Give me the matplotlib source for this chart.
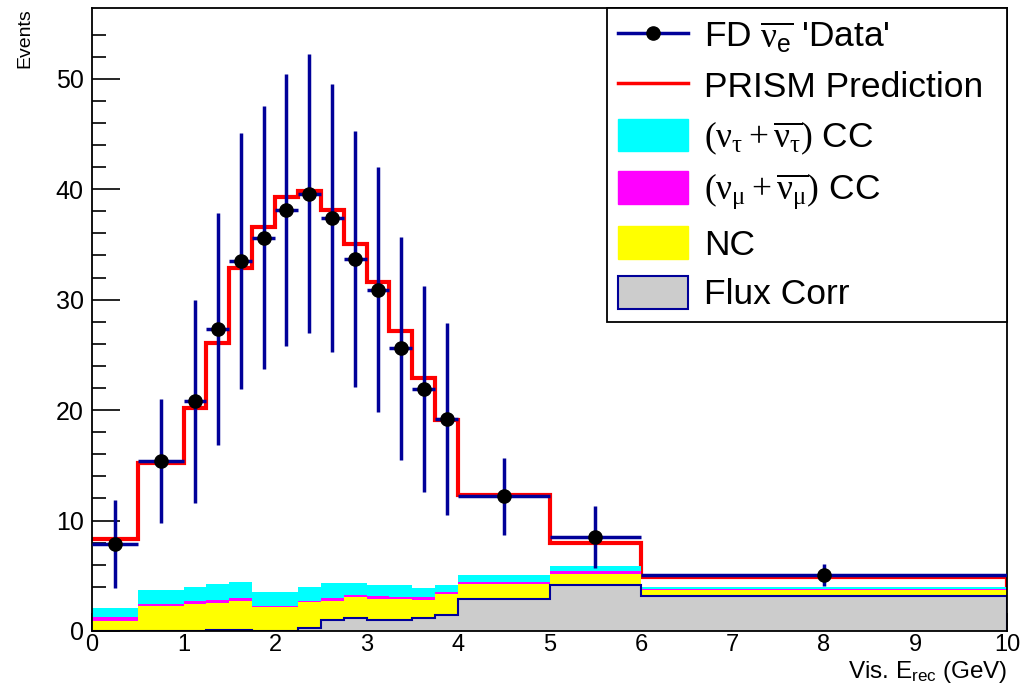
import numpy as np
import matplotlib.pyplot as plt
from matplotlib.lines import Line2D
from matplotlib.patches import Patch
from matplotlib.font_manager import FontProperties

plt.rcParams['font.family'] = ['Liberation Sans', 'DejaVu Sans']
# upright serif greek like ROOT's Symbol font, sans for plain subscripts
plt.rcParams['mathtext.fontset'] = 'custom'
plt.rcParams['mathtext.rm'] = 'Liberation Serif'
plt.rcParams['mathtext.it'] = 'Liberation Serif'
plt.rcParams['mathtext.sf'] = 'Liberation Sans'

# binning in visible reconstructed energy (GeV)
edges = [0, 0.5, 1, 1.25, 1.5, 1.75, 2, 2.25, 2.5, 2.75, 3, 3.25, 3.5, 3.75, 4, 5, 6, 10]

# PRISM prediction
prism = [8.3, 15.2, 20.2, 26.1, 32.9, 36.6, 39.3, 39.8, 38.1, 35.0, 31.6, 27.2,
         22.9, 19.1, 12.3, 8.0, 4.9]

# fake FD data and errors
fd_data = [7.9, 15.4, 20.8, 27.3, 33.5, 35.6, 38.1, 39.6, 37.4, 33.7, 30.9, 25.6,
           21.9, 19.2, 12.2, 8.5, 5.05]
fd_err = [4.0, 5.6, 9.2, 10.5, 11.6, 11.9, 12.3, 12.6, 12.1, 11.6, 11.1, 10.1,
          9.35, 8.7, 3.5, 2.8, 1.0]

# background components, stacked from the bottom
flux_corr = [0, 0, 0, 0.1, 0.1, 0, 0, 0.27, 1.0, 1.18, 1.0, 1.0, 1.18, 1.45, 2.87, 4.2, 3.17]
nc = [0.93, 2.29, 2.44, 2.43, 2.61, 2.14, 2.14, 2.38, 1.74, 1.87, 1.89, 1.89, 1.65, 1.86,
      1.41, 0.98, 0.54]
numu_cc = [0.31, 0.12, 0.24, 0.30, 0.27, 0.12, 0.12, 0.06, 0.24, 0.23, 0.24, 0.18, 0.24,
           0.25, 0.15, 0.24, 0.12]
nutau_cc = [0.84, 1.30, 1.30, 1.45, 1.48, 1.30, 1.30, 1.27, 1.33, 1.03, 1.06, 1.12, 0.79,
            0.63, 0.60, 0.48, 0.18]

navy = '#000099'

edges = np.array(edges)
centers = 0.5 * (edges[1:] + edges[:-1])
halfw = 0.5 * (edges[1:] - edges[:-1])

fig = plt.figure(figsize=(10.21, 6.86), dpi=100)
ax = fig.add_axes([92 / 1021, 55 / 686, 915 / 1021, 623 / 686])

# prediction first, stack drawn over it, data on top
ax.stairs(prism, edges, baseline=None, color='red', lw=3, zorder=1.2)
ax.vlines(edges[-1], 0, prism[-1], color='red', lw=3, zorder=1.2)

bottom = np.zeros(len(prism))
layers = [(flux_corr, '#cccccc'), (nc, '#ffff00'), (numu_cc, '#ff00ff'), (nutau_cc, '#00ffff')]
for i, (vals, col) in enumerate(layers):
    top = bottom + np.array(vals)
    ax.stairs(top, edges, baseline=bottom, fill=True, color=col, lw=0, zorder=1.5 + 0.01 * i)
    bottom = top
ax.stairs(flux_corr, edges, baseline=0, color=navy, lw=1.5, zorder=1.6)

ax.errorbar(centers, fd_data, yerr=fd_err, xerr=halfw, fmt='o', color=navy, ecolor=navy,
            elinewidth=2.5, capsize=0, ms=9.5, mfc='black', mec='black', zorder=3)

ax.set_xlim(0, 10)
ax.set_ylim(0, 56.4)
ax.set_axisbelow(True)
ax.set_xticks(np.arange(0, 11, 1))
ax.set_xticks(np.arange(0, 10.01, 0.2), minor=True)
ax.set_yticks(np.arange(0, 51, 10))
ax.set_yticks(np.arange(0, 56, 2), minor=True)
ax.tick_params(axis='y', which='major', direction='in', length=20, width=1.2, labelsize=18, pad=6)
ax.tick_params(axis='y', which='minor', direction='in', length=10, width=1.2)
ax.tick_params(axis='x', which='major', direction='in', length=13, width=1.2, labelsize=17, pad=2)
ax.tick_params(axis='x', which='minor', direction='in', length=6.5, width=1.2)
for sp in ax.spines.values():
    sp.set_linewidth(1.3)

fig.text(25 / 1021, 1 - 8 / 686, 'Events', rotation=90, ha='center', va='top', fontsize=14)
fig.text(1007 / 1021, 1 / 686, r'Vis. E$_{\mathsf{rec}}$ (GeV)', ha='right', va='bottom',
         fontsize=17.5)

handles = [
    Line2D([], [], color=navy, lw=2.5, marker='o', ms=9.5, mfc='black', mec='black'),
    Line2D([], [], color='red', lw=2.5),
    Patch(facecolor='#00ffff', edgecolor='#00ffff'),
    Patch(facecolor='#ff00ff', edgecolor='#ff00ff'),
    Patch(facecolor='#ffff00', edgecolor='#ffff00'),
    Patch(facecolor='#cccccc', edgecolor=navy, lw=1.5),
]
labels = [
    r"FD $\overline{\nu_{\mathsf{e}}}$ 'Data'",
    'PRISM Prediction',
    r'$(\nu_{\tau} + \overline{\nu_{\tau}})$ CC',
    r'$(\nu_{\mu} + \overline{\nu_{\mu}})$ CC',
    'NC',
    'Flux Corr',
]
leg = ax.legend(handles, labels, loc='upper left',
                bbox_to_anchor=(515 / 915, 300 / 623, 400 / 915, 323 / 623), mode='expand',
                borderaxespad=0, prop=FontProperties(family='Liberation Sans', size=25.5),
                fancybox=False, framealpha=1, edgecolor='black', handlelength=1.98,
                handleheight=1.05, handletextpad=0.45, labelspacing=0.4, borderpad=0.3)
leg.get_frame().set_linewidth(1.3)
leg.set_zorder(5)

fig.savefig('out.png', dpi=100)
